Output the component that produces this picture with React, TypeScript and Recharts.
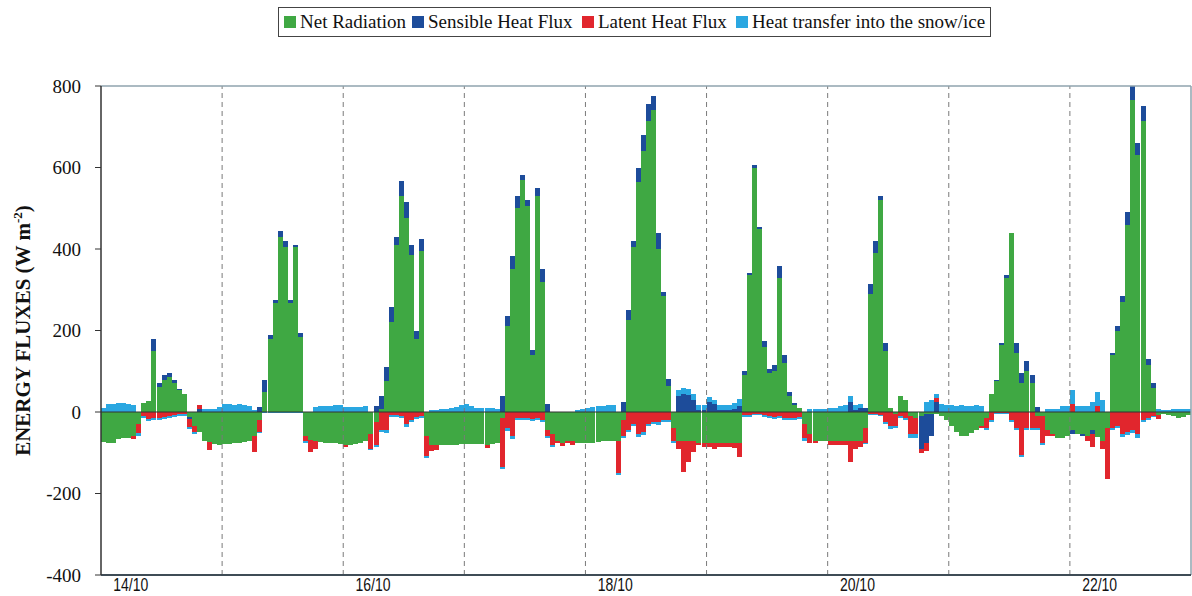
import React from 'react';
import { BarChart, Bar, XAxis, YAxis, ReferenceLine, Legend } from 'recharts';

// x-axis: hourly bins from 14/10 00:00 to 23/10 00:00
const dayLabels = ['14/10', '16/10', '18/10', '20/10', '22/10'];
const labelHours = [5, 53, 101, 149, 197];
const dayBoundaryHours = [24, 48, 72, 96, 120, 144, 168, 192];
const yTicks = [-400, -200, 0, 200, 400, 600, 800];

const seriesNames = ['Net Radiation', 'Sensible Heat Flux', 'Latent Heat Flux', 'Heat transfer into the snow/ice'];
const seriesColors = ['#3fa843', '#1d4c9a', '#e1262d', '#2aa7e1'];

// W m-2, one value per hour, one row per day
const netRadiation = [
  -74, -76, -77, -66, -64, -63, -58, -30, 22, 28, 150, 62, 78, 86, 70, 54, 45, -12, -35, -50, -72, -74, -78, -80,
  -78, -78, -76, -75, -74, -72, -60, -20, 48, 180, 268, 430, 405, 268, 405, 185, -60, -68, -70, -74, -76, -76, -77, -78,
  -80, -80, -78, -76, -72, -55, -25, 8, 75, 220, 410, 530, 475, 385, 180, 395, -60, -80, -82, -82, -82, -80, -80, -79,
  -79, -78, -78, -78, -80, -78, -76, -15, 210, 350, 500, 570, 505, 140, 530, 320, -45, -55, -70, -75, -72, -72, -75, -76,
  -75, -75, -73, -72, -72, -70, -70, -20, 225, 405, 565, 640, 715, 740, 400, 285, 65, -40, -70, -72, -72, -72, -75, -75,
  -75, -75, -75, -75, -76, -76, -75, 90, 336, 600, 450, 160, 95, 100, 330, 120, 40, 18, 10, -30, -55, -70, -72, -72,
  -72, -72, -72, -72, -72, -72, -72, -40, 290, 390, 520, 150, 10, -5, 40, 30, -10, -15, -10, -5, -5, -5, -10, -20,
  -35, -50, -58, -58, -52, -45, -35, -15, 45, 75, 165, 330, 440, 145, 70, 100, 70, -10, -10, -45, -55, -65, -65, -60,
  -45, -55, -55, -60, -45, -62, -70, -40, 140, 200, 270, 460, 765, 630, 715, 115, 60, -8, -5, -8, -10, -15, -12, -8,
];

const sensibleHeat = [
  0, 0, 0, 0, 0, 0, 0, 0, 0, 0, 28, 9, 12, 10, 8, 3, 0, -6, 0, 8, 0, 0, 0, 0,
  0, 0, 0, 0, 0, 0, 0, 12, 30, 10, 6, 15, 15, 7, 4, 10, 0, 0, 0, 0, 0, 0, 0, 0,
  0, 0, 0, 0, 0, 0, 15, 32, 35, 37, 20, 38, 40, 25, 20, 30, 0, 0, 0, 0, 0, 0, 0, 0,
  0, 0, 0, 0, 0, 0, 0, 40, 25, 34, 30, 11, 15, 11, 19, 30, 20, 0, 0, 0, 0, 0, 0, 0,
  0, 0, 0, 0, 0, 0, 0, 25, 25, 15, 35, 40, 40, 35, 40, 10, 15, 0, 40, 45, 42, 30, 5, 5,
  25, 20, 5, 5, 5, 8, 15, 10, 6, 5, 5, 15, 10, 15, 28, 20, 10, 3, 0, 0, 0, 0, 0, 0,
  0, 0, 0, 0, 25, 5, 10, 10, 25, 30, 10, 20, 0, 0, 0, 0, 0, 0, -80, -70, -55, 25, 0, 0,
  0, 0, 0, 0, 0, 0, 0, 0, 0, 3, 5, 5, 0, 25, 25, 25, 20, 12, 0, 0, 0, 0, 0, 0,
  -10, 0, -5, 0, -10, 0, 0, 0, 5, 11, 15, 30, 35, 30, 36, 15, 10, 0, 0, 0, 0, 0, 0, 0,
];

const latentHeat = [
  0, 0, 0, 0, 0, 0, -8, -22, -10, -16, -14, -14, -12, -10, -8, -6, -6, -18, -15, 8, 0, -20, 0, 0,
  0, 0, 0, 0, 0, 0, -38, -28, 0, 0, 0, 0, 0, 0, 0, 0, -12, -30, -22, 0, 0, 0, 0, 0,
  -5, 0, 0, 0, 0, -35, -55, -45, -45, -8, -8, -10, -30, -20, -12, -10, -48, -15, -12, 0, 0, 0, 0, 0,
  0, 0, 0, 0, -8, 0, 0, -120, -40, -60, -15, -15, -15, -18, -15, -20, -15, -25, -5, -8, -5, -10, 0, 0,
  0, 0, 0, 0, 0, 0, -80, -40, -45, -30, -55, -50, -30, -25, -25, -20, -20, -30, -20, -75, -50, -25, -5, -10,
  -12, -15, -10, -12, -10, -12, -35, -8, -8, -5, -5, -8, -10, -12, -10, -15, -15, -15, -12, -35, -20, -5, 0, 0,
  -8, -10, -10, -10, -50, -20, -15, -35, -5, -5, -8, -25, -35, -30, -10, -15, -45, -40, -10, -20, 0, 10, 0, 0,
  0, 0, 0, 0, 0, 0, -5, -25, -20, -3, -3, -3, -20, -40, -105, -40, -40, -30, -65, -15, -5, 0, 0, 0,
  20, 0, 0, -10, -30, 15, -20, -125, -40, -35, -55, -50, -45, -55, -20, -15, -10, -10, 0, 0, 0, 0, 0, 0,
];

const heatTransfer = [
  10, 20, 20, 21, 21, 20, 18, -6, -4, -6, -6, -5, -5, -4, -4, -4, -3, -5, -3, 2, 8, 8, 8, 12,
  20, 20, 18, 20, 18, 15, 5, -4, -3, -3, -3, -3, -3, -3, -3, -3, -4, 0, 12, 14, 15, 15, 16, 16,
  12, 12, 12, 12, 14, -4, -5, -5, -6, -5, -4, -5, -6, -5, -5, -5, -6, 6, 6, 8, 8, 10, 12, 18,
  20, 15, 10, 10, 10, 10, 8, -6, -6, -6, -5, -5, -5, -5, -5, -5, -4, -5, 0, 0, 0, 0, 5, 8,
  10, 12, 15, 15, 16, 16, -5, -5, -5, -5, -6, -6, -5, -5, -6, -5, -5, -5, 15, 15, 15, 15, 12, 12,
  12, 10, 12, 12, 12, 14, 18, -4, -4, -3, -3, -4, -4, -4, -4, -4, -4, -4, -5, -5, 8, 8, 8, 8,
  10, 10, 15, 18, 15, 12, 10, -4, -3, -3, -3, -5, -6, -5, -4, -4, -8, -8, 0, 25, 30, 10, 20, 18,
  18, 15, 18, 15, 15, 18, 15, -5, -5, -2, -2, -2, -5, -5, -6, -5, -5, -4, -6, 8, 8, 8, 15, 15,
  35, 15, 15, 15, 25, 35, 30, 0, -5, -5, -6, -6, -6, -8, -5, -4, -3, 8, 5, 6, 8, 8, 8, 8,
];

const data = netRadiation.map((v, i) => ({
  hour: i,
  net: v,
  sensible: sensibleHeat[i],
  latent: latentHeat[i],
  heat: heatTransfer[i],
}));

const lastHour = data.length - 1;

const serif = "'Liberation Serif', 'Times New Roman', serif";
const narrow = "'Liberation Sans Narrow', 'Arial Narrow', 'Liberation Sans', Arial, sans-serif";

const legendLefts = [5, 133, 303, 457];

const renderLegend = () => (
  <div
    style={{
      boxSizing: 'border-box',
      width: 713,
      height: 30,
      border: '1px solid #444',
      background: '#fff',
      position: 'relative',
      fontFamily: serif,
      fontSize: 19,
      color: '#111',
    }}
  >
    {seriesNames.map((name, i) => (
      <div
        key={name}
        style={{
          position: 'absolute',
          left: legendLefts[i],
          top: 0,
          height: 28,
          display: 'flex',
          alignItems: 'center',
          whiteSpace: 'nowrap',
        }}
      >
        <span style={{ display: 'inline-block', width: 12, height: 12, background: seriesColors[i], marginRight: 4 }} />
        <span>{name}</span>
      </div>
    ))}
  </div>
);

const renderYTitle = (props: any) => {
  const vb = props.viewBox || { y: 86, height: 489 };
  const cy = vb.y + vb.height / 2;
  return (
    <text
      transform={`translate(30,${cy}) rotate(-90)`}
      textAnchor="middle"
      fontFamily={serif}
      fontWeight="bold"
      fontSize={21}
      fill="#111"
    >
      ENERGY FLUXES (W m<tspan dy={-8} fontSize={13}>-2</tspan>
      <tspan dy={8}>)</tspan>
    </text>
  );
};

const DayTick = (props: any) => {
  const { x, y, payload } = props;
  const label = dayLabels[labelHours.indexOf(payload.value)] ?? '';
  return (
    <text
      x={x + 2}
      y={y}
      dy="0.72em"
      textAnchor="middle"
      fontSize={19}
      fill="#111"
      fontFamily={narrow}
      textLength={35}
      lengthAdjust="spacingAndGlyphs"
    >
      {label}
    </text>
  );
};

export default function App() {
  return (
    <div style={{ position: 'absolute', left: 0, top: 0, width: 1192, height: 596, background: '#fff' }}>
      <BarChart
        width={1192}
        height={596}
        data={data}
        stackOffset="sign"
        barCategoryGap={0}
        barGap={0}
        margin={{ top: 86, right: 1, bottom: 0, left: 0 }}
      >
        <XAxis
          dataKey="hour"
          type="category"
          ticks={labelHours}
          interval={0}
          height={21}
          tickLine={false}
          tickSize={0}
          tickMargin={2}
          axisLine={{ stroke: '#3f4c56', strokeWidth: 2 }}
          tick={<DayTick />}
        />
        <YAxis
          domain={[-400, 800]}
          ticks={yTicks}
          interval={0}
          allowDataOverflow
          width={101}
          tickSize={6}
          tickMargin={14}
          tickLine={{ stroke: '#333' }}
          axisLine={{ stroke: '#333', strokeWidth: 1.5 }}
          tick={{ fontSize: 19, fill: '#111', fontFamily: serif }}
          label={{ content: renderYTitle }}
        />
        <Legend
          layout="vertical"
          align="center"
          verticalAlign="middle"
          wrapperStyle={{ top: 7, left: 278, width: 713, height: 30 }}
          content={renderLegend}
        />
        <Bar dataKey="net" stackId="e" fill={seriesColors[0]} isAnimationActive={false} shapeRendering="crispEdges" />
        <Bar dataKey="sensible" stackId="e" fill={seriesColors[1]} isAnimationActive={false} shapeRendering="crispEdges" />
        <Bar dataKey="latent" stackId="e" fill={seriesColors[2]} isAnimationActive={false} shapeRendering="crispEdges" />
        <Bar dataKey="heat" stackId="e" fill={seriesColors[3]} isAnimationActive={false} shapeRendering="crispEdges" />
        {dayBoundaryHours.map((h) => (
          <ReferenceLine key={h} x={h} position="start" stroke="#7a7a7a" strokeDasharray="5 4" />
        ))}
        <ReferenceLine y={0} stroke="#333" strokeWidth={1.2} />
        <ReferenceLine y={800} stroke="#8fa3ae" strokeWidth={1.5} />
        <ReferenceLine x={lastHour} position="end" stroke="#8fa3ae" strokeWidth={1.5} />
      </BarChart>
    </div>
  );
}
